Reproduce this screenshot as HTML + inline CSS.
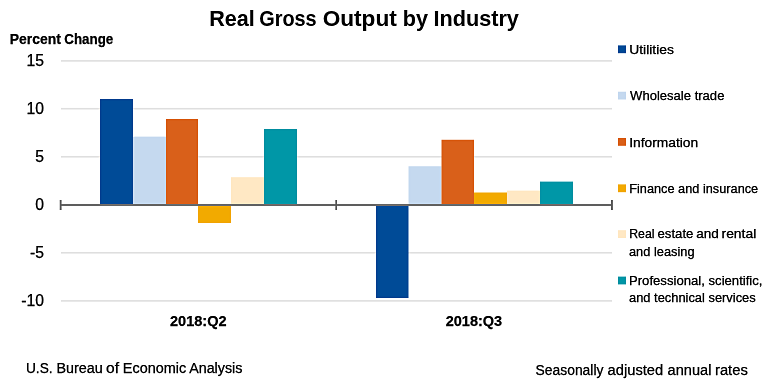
<!DOCTYPE html>
<html><head><meta charset="utf-8">
<style>
html,body{margin:0;padding:0;background:#fff;width:768px;height:387px;overflow:hidden}
svg{display:block;will-change:transform}
text{font-family:"Liberation Sans",sans-serif;fill:#000;stroke:#000;stroke-width:0.25}
.b{font-weight:bold}
</style></head><body>
<svg width="768" height="387" viewBox="0 0 768 387">
<defs><filter id="sh" x="0" y="0" width="768" height="387" filterUnits="userSpaceOnUse" color-interpolation-filters="sRGB"><feGaussianBlur in="SourceGraphic" stdDeviation="1.3" result="b"/><feComposite in="SourceGraphic" in2="b" operator="arithmetic" k1="0" k2="1.3" k3="-0.3" k4="0"/></filter></defs>
<g filter="url(#sh)">
<rect x="0" y="0" width="768" height="387" fill="#fff"/>
<g fill="#e2e2e2">
<rect x="61" y="60.1" width="551" height="1.6"/>
<rect x="61" y="107.9" width="551" height="1.6"/>
<rect x="61" y="156" width="551" height="1.6"/>
<rect x="61" y="252" width="551" height="1.6"/>
<rect x="61" y="300.1" width="551" height="1.6"/>
</g>
<g font-size="15.7" text-anchor="end" style="stroke-width:0.05">
<text x="44" y="65.6">15</text>
<text x="44" y="113.6">10</text>
<text x="44" y="161.6">5</text>
<text x="44" y="209.6">0</text>
<text x="44" y="257.6">-5</text>
<text x="44" y="305.6">-10</text>
</g>
<rect x="100" y="99" width="33" height="106" fill="#004B97"/>
<rect x="133" y="136.6" width="33" height="68.4" fill="#C5D9EF"/>
<rect x="166" y="119" width="32" height="86" fill="#D9601A"/>
<rect x="198" y="205" width="33" height="18" fill="#F2AA00"/>
<rect x="231" y="177.2" width="33" height="27.8" fill="#FFE8C4"/>
<rect x="264" y="129" width="33" height="76" fill="#0097A7"/>
<rect x="376" y="205" width="32.5" height="93" fill="#004B97"/>
<rect x="408.5" y="166.25" width="33" height="38.75" fill="#C5D9EF"/>
<rect x="441.5" y="139.75" width="32.5" height="65.25" fill="#D9601A"/>
<rect x="474" y="192.5" width="33" height="12.5" fill="#F2AA00"/>
<rect x="507" y="190.6" width="33" height="14.4" fill="#FFE8C4"/>
<rect x="540" y="181.6" width="33" height="23.4" fill="#0097A7"/>
<g fill="#6f6f6f">
<rect x="61" y="204" width="551" height="2"/>
</g>
<g fill="#616161">
<rect x="59.7" y="200" width="1.9" height="10"/>
<rect x="335.3" y="200" width="1.7" height="10"/>
<rect x="611" y="200" width="1.9" height="10"/>
</g>
<rect x="618" y="45.4" width="8" height="7.8" fill="#004B97"/>
<rect x="618" y="91.7" width="8" height="7.8" fill="#C5D9EF"/>
<rect x="618" y="138.0" width="8" height="7.8" fill="#D9601A"/>
<rect x="618" y="184.4" width="8" height="7.8" fill="#F2AA00"/>
<rect x="618" y="230.2" width="8" height="7.8" fill="#FFE8C4"/>
<rect x="618" y="276.6" width="8" height="7.8" fill="#0097A7"/>
<text id="t1" class="b" style="stroke-width:0.05" x="209.30" y="25.8" font-size="22.2" textLength="45.50" lengthAdjust="spacingAndGlyphs">Real</text>
<text id="t2" class="b" style="stroke-width:0.05" x="259.20" y="25.8" font-size="22.2" textLength="57.50" lengthAdjust="spacingAndGlyphs">Gross</text>
<text id="t3" class="b" style="stroke-width:0.05" x="322.70" y="25.8" font-size="22.2" textLength="74.10" lengthAdjust="spacingAndGlyphs">Output</text>
<text id="t4" class="b" style="stroke-width:0.05" x="402.80" y="25.8" font-size="22.2" textLength="25.20" lengthAdjust="spacingAndGlyphs">by</text>
<text id="t5" class="b" style="stroke-width:0.05" x="433.50" y="25.8" font-size="22.2" textLength="85.40" lengthAdjust="spacingAndGlyphs">Industry</text>
<text id="p1" class="b" x="9.65" y="44.0" font-size="14" textLength="51.20" lengthAdjust="spacingAndGlyphs">Percent</text>
<text id="p2" class="b" x="64.30" y="44.0" font-size="14" textLength="49.00" lengthAdjust="spacingAndGlyphs">Change</text>
<text id="q2" class="b" x="170.00" y="326.1" font-size="15" textLength="56.60" lengthAdjust="spacingAndGlyphs">2018:Q2</text>
<text id="q3" class="b" x="445.70" y="326.1" font-size="15" textLength="56.50" lengthAdjust="spacingAndGlyphs">2018:Q3</text>
<text id="l1" x="629.20" y="53.75" font-size="12.2" textLength="44.70" lengthAdjust="spacingAndGlyphs">Utilities</text>
<text id="l2" x="630.10" y="99.5" font-size="12.2" textLength="94.30" lengthAdjust="spacingAndGlyphs">Wholesale trade</text>
<text id="l3" x="629.20" y="146.7" font-size="12.2" textLength="68.90" lengthAdjust="spacingAndGlyphs">Information</text>
<text id="l4" x="629.20" y="192.9" font-size="12.2" textLength="129.00" lengthAdjust="spacingAndGlyphs">Finance and insurance</text>
<text id="l5a" x="629.20" y="238.1" font-size="12.2" textLength="25.30" lengthAdjust="spacingAndGlyphs">Real</text>
<text id="l5c" x="657.50" y="238.1" font-size="12.2" textLength="35.90" lengthAdjust="spacingAndGlyphs">estate</text>
<text id="l5d" x="696.20" y="238.1" font-size="12.2" textLength="22.60" lengthAdjust="spacingAndGlyphs">and</text>
<text id="l5e" x="721.50" y="238.1" font-size="12.2" textLength="34.80" lengthAdjust="spacingAndGlyphs">rental</text>
<text id="l5b" x="629.00" y="256.0" font-size="12.2" textLength="65.50" lengthAdjust="spacingAndGlyphs">and leasing</text>
<text id="l6a" x="629.00" y="284.6" font-size="12.2" textLength="133.50" lengthAdjust="spacingAndGlyphs">Professional, scientific,</text>
<text id="l6b" x="629.00" y="301.9" font-size="12.2" textLength="126.70" lengthAdjust="spacingAndGlyphs">and technical services</text>
<text id="f1" x="26.00" y="373" font-size="14" textLength="26.60" lengthAdjust="spacingAndGlyphs">U.S.</text>
<text id="f2" x="56.40" y="373" font-size="14" textLength="46.40" lengthAdjust="spacingAndGlyphs">Bureau</text>
<text id="f3" x="106.00" y="373" font-size="14" textLength="13.00" lengthAdjust="spacingAndGlyphs">of</text>
<text id="f4" x="122.80" y="373" font-size="14" textLength="63.40" lengthAdjust="spacingAndGlyphs">Economic</text>
<text id="f5" x="189.20" y="373" font-size="14" textLength="53.20" lengthAdjust="spacingAndGlyphs">Analysis</text>
<text id="f6" x="535.60" y="375.2" font-size="14" textLength="67.80" lengthAdjust="spacingAndGlyphs">Seasonally</text>
<text id="f7" x="607.60" y="375.2" font-size="14" textLength="55.60" lengthAdjust="spacingAndGlyphs">adjusted</text>
<text id="f8" x="667.60" y="375.2" font-size="14" textLength="43.80" lengthAdjust="spacingAndGlyphs">annual</text>
<text id="f9" x="715.00" y="375.2" font-size="14" textLength="32.80" lengthAdjust="spacingAndGlyphs">rates</text>
</g>
</svg>
</body></html>
